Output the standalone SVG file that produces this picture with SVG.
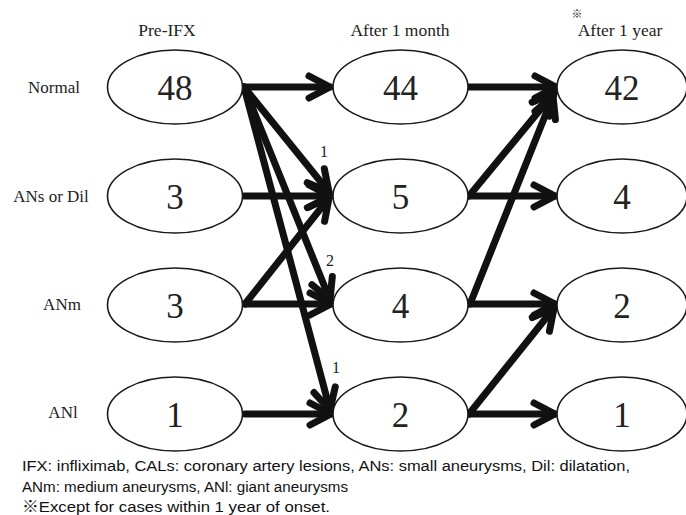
<svg xmlns="http://www.w3.org/2000/svg" width="686" height="515" viewBox="0 0 686 515">
<style>
.n ellipse{fill:#fff;stroke:#1a1a1a;stroke-width:1.6}
.num{font-family:"Liberation Serif",serif;font-size:35px;fill:#222;text-anchor:middle}
.lbl{font-family:"Liberation Serif",serif;font-size:17px;fill:#222}
.hdr{font-family:"Liberation Serif",serif;font-size:17.5px;fill:#222;text-anchor:middle}
.el{font-family:"Liberation Serif",serif;font-size:16px;fill:#222;text-anchor:middle}
.foot{font-family:"Liberation Sans",sans-serif;font-size:15.5px;fill:#111}
.c line{stroke:#111;stroke-width:7;stroke-linecap:round;marker-end:url(#ah)}
</style>
<defs>
<marker id="ah" markerUnits="userSpaceOnUse" viewBox="-30 -20 36 40" markerWidth="36" markerHeight="40" refX="0" refY="0" orient="auto">
<path d="M-21,-11 L0,0 L-21,11" fill="none" stroke="#111" stroke-width="7" stroke-linecap="round" stroke-linejoin="round"/>
</marker>
</defs>
<rect width="686" height="515" fill="#fff"/>
<g id="headers">
<text class="hdr" x="167" y="36">Pre-IFX</text>
<text class="hdr" x="400" y="36">After 1 month</text>
<text class="hdr" x="620" y="36">After 1 year</text>
<text x="577" y="18" font-family="'Noto Sans CJK JP',sans-serif" font-size="11" fill="#222" text-anchor="middle">※</text>
</g>
<g id="rowlabels">
<text class="lbl" x="54" y="93" text-anchor="middle">Normal</text>
<text class="lbl" x="51" y="202" text-anchor="middle">ANs or Dil</text>
<text class="lbl" x="62" y="310" text-anchor="middle">ANm</text>
<text class="lbl" x="63" y="418" text-anchor="middle">ANl</text>
</g>
<g id="connectors" class="c">
<line x1="244" y1="87" x2="330" y2="87"/>
<line x1="244" y1="87" x2="329" y2="192"/>
<line x1="244" y1="87" x2="330" y2="300"/>
<line x1="244" y1="87" x2="330" y2="410"/>
<line x1="244" y1="196" x2="330" y2="196"/>
<line x1="245" y1="304" x2="329" y2="198"/>
<line x1="245" y1="304" x2="331" y2="304"/>
<line x1="245" y1="414" x2="331" y2="414"/>
<line x1="469" y1="87" x2="556" y2="87"/>
<line x1="469" y1="196" x2="554" y2="93"/>
<line x1="470" y1="304" x2="553" y2="96"/>
<line x1="469" y1="196" x2="555" y2="196"/>
<line x1="469" y1="304" x2="555" y2="304"/>
<line x1="469" y1="414" x2="554" y2="308"/>
<line x1="469" y1="414" x2="555" y2="414"/>
</g>
<g id="edgelabels">
<text class="el" x="324" y="157">1</text>
<text class="el" x="330" y="266">2</text>
<text class="el" x="336" y="373">1</text>
</g>
<g id="n-pre-normal" class="n"><ellipse cx="175" cy="87" rx="67.5" ry="37"/><text class="num" x="175" y="100">48</text></g>
<g id="n-pre-ans" class="n"><ellipse cx="175" cy="196" rx="67.5" ry="37"/><text class="num" x="175" y="209">3</text></g>
<g id="n-pre-anm" class="n"><ellipse cx="175" cy="305" rx="67.5" ry="37"/><text class="num" x="175" y="318">3</text></g>
<g id="n-pre-anl" class="n"><ellipse cx="175" cy="414" rx="67.5" ry="37"/><text class="num" x="175" y="427">1</text></g>
<g id="n-m1-normal" class="n"><ellipse cx="400.5" cy="87" rx="67.5" ry="37"/><text class="num" x="400.5" y="100">44</text></g>
<g id="n-m1-ans" class="n"><ellipse cx="400.5" cy="196" rx="67.5" ry="37"/><text class="num" x="400.5" y="209">5</text></g>
<g id="n-m1-anm" class="n"><ellipse cx="400.5" cy="305" rx="67.5" ry="37"/><text class="num" x="400.5" y="318">4</text></g>
<g id="n-m1-anl" class="n"><ellipse cx="400.5" cy="414" rx="67.5" ry="37"/><text class="num" x="400.5" y="427">2</text></g>
<g id="n-y1-normal" class="n"><ellipse cx="622" cy="87" rx="65" ry="37"/><text class="num" x="622" y="100">42</text></g>
<g id="n-y1-ans" class="n"><ellipse cx="622" cy="196" rx="65" ry="37"/><text class="num" x="622" y="209">4</text></g>
<g id="n-y1-anm" class="n"><ellipse cx="622" cy="305" rx="65" ry="37"/><text class="num" x="622" y="318">2</text></g>
<g id="n-y1-anl" class="n"><ellipse cx="622" cy="414" rx="65" ry="37"/><text class="num" x="622" y="427">1</text></g>
<g id="footer">
<text class="foot" x="22" y="471" textLength="608" lengthAdjust="spacingAndGlyphs">IFX: infliximab, CALs: coronary artery lesions, ANs: small aneurysms, Dil: dilatation,</text>
<text class="foot" x="22" y="492" textLength="326" lengthAdjust="spacingAndGlyphs">ANm: medium aneurysms, ANl: giant aneurysms</text>
<text class="foot" x="22" y="512" textLength="308" lengthAdjust="spacingAndGlyphs"><tspan font-family="'Noto Sans CJK JP',sans-serif">※</tspan>Except for cases within 1 year of onset.</text>
</g>
</svg>
